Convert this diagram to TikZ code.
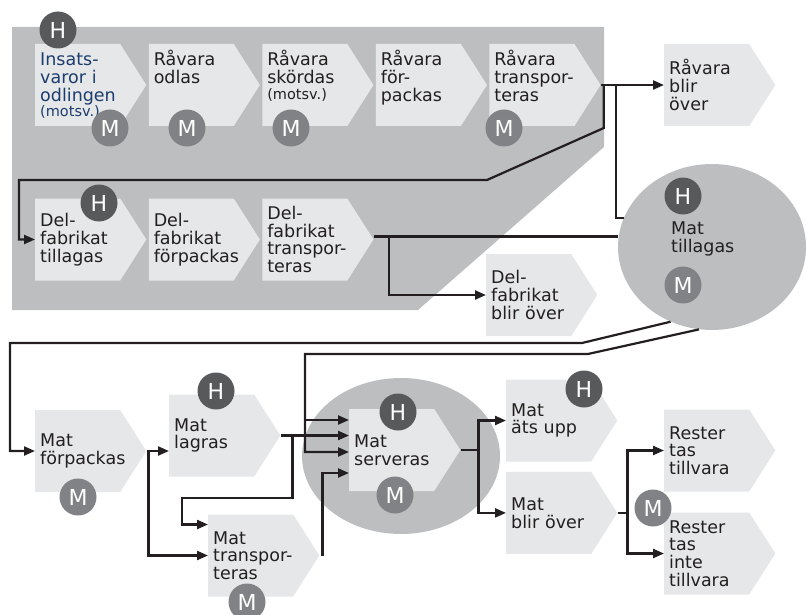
\documentclass[tikz,border=0pt]{standalone}
\usepackage{fontspec}
\setmainfont{DejaVu Sans}
\usetikzlibrary{arrows.meta,positioning,calc,shapes.geometric,shapes.symbols}
\definecolor{boxgray}{HTML}{E6E7E8}
\definecolor{areagray}{HTML}{BCBEC0}
\definecolor{hgray}{HTML}{58595B}
\definecolor{mgray}{HTML}{808285}
\definecolor{ink}{HTML}{231F20}
\definecolor{navy}{HTML}{1D3C6E}
\newcommand{\boxfont}{\fontsize{17.5}{17.7}\selectfont}
\newcommand{\notefont}{\fontsize{14.5}{15}\selectfont}
\newcommand{\circfont}{\fontsize{22}{22}\selectfont}
\hyphenpenalty=10000
\exhyphenpenalty=10000
\tikzset{
  stepbox/.style={signal, signal to=east, signal pointer angle=115, fill=boxgray, minimum height=82pt, text width=75pt, inner xsep=5pt, inner ysep=5pt, align=left, font=\boxfont, text=ink},
  topbox/.style={stepbox, text height=17pt, text depth=55pt},
  area/.style={ellipse, fill=areagray, inner sep=0pt},
  txt/.style={align=left, inner sep=0pt, font=\boxfont, text=ink},
  hcirc/.style={circle, fill=hgray, text=white, minimum size=37pt, inner sep=0pt, font=\circfont},
  mcirc/.style={hcirc, fill=mgray},
  link/.style={draw=ink, line width=2.2pt},
  arrow/.style={link, -{Triangle[length=11pt,width=9pt]}}
}

\begin{document}
\begin{tikzpicture}[x=1pt, y=-1pt, node distance=2pt]
\useasboundingbox (0,0) rectangle (806,615);
\fill[areagray] (12,27) -- (604,27) -- (604,147) -- (418,310) -- (12,310) -- cycle;
\node[area, minimum width=188pt, minimum height=166pt] (tillagas) at (712,247) {};
\node[area, minimum width=198pt, minimum height=156pt] (servarea) at (401,456) {};

% raavara
\node[topbox, anchor=west, text=navy] (ins) at (35,85) {Insats-\\varor i\\odlingen\\[-3pt]{\notefont (motsv.)}};
\node[topbox, right=of ins] (odl) {Råvara\\odlas};
\node[topbox, right=of odl] (skd) {Råvara\\skördas\\[-2pt]{\notefont (motsv.)}};
\node[topbox, right=of skd] (fpk) {Råvara\\för-\\packas};
\node[topbox, right=of fpk] (trp) {Råvara\\transpor-\\teras};
\node[stepbox, anchor=west] (rbo) at (664,85) {Råvara\\blir\\över};

% delfabrikat
\node[stepbox, anchor=west] (dft) at (35,239.5) {Del-\\fabrikat\\tillagas};
\node[stepbox, right=of dft] (dff) {Del-\\fabrikat\\förpackas};
\node[stepbox, right=of dff] (dtr) {Del-\\fabrikat\\transpor-\\teras};
\node[stepbox, anchor=west] (dbo) at (486,295) {Del-\\fabrikat\\blir över};
\node[txt, anchor=west] (tillagastxt) at (671,239) {Mat\\tillagas};

% mat
\node[stepbox, anchor=west] (mfp) at (35,451) {Mat\\förpackas};
\node[stepbox, anchor=west] (mlg) at (169,435.5) {Mat\\lagras};
\node[stepbox, anchor=west] (mtr) at (208,555.5) {Mat\\transpor-\\teras};
\node[stepbox, anchor=west] (msv) at (349,450) {Mat\\serveras};
\node[stepbox, anchor=west] (mau) at (506,420.5) {Mat\\äts upp};
\node[stepbox, below=10pt of mau] (mbo) {Mat\\blir över};
\node[stepbox, anchor=west] (rtt) at (664,450.5) {Rester\\tas\\tillvara};
\node[stepbox, anchor=west] (rit) at (664,553.5) {Rester\\tas\\inte\\tillvara};

\coordinate (knee) at (487,180);
\coordinate (lowA) at (582,343);
\coordinate (lowB) at (588,354);
\draw[arrow] (trp.east) -- (rbo.west);
\draw[arrow] ([xshift=3pt]trp.east) -- ++(0,43) -- (knee) -- (19,180) |- (dft.west);
\draw[link] ([xshift=15pt]trp.east) |- (tillagas.162);
\draw[link] ([yshift=3pt]dtr.east) -- ([yshift=3pt]dtr.east -| tillagas.west);
\draw[arrow] ([xshift=15pt, yshift=3pt]dtr.east) |- (dbo.west);
\draw[arrow] (tillagas.241) -- (lowA) -- (10,343) |- (mfp.west);
\draw[arrow] (tillagas.261) -- (lowB) -- (305,354) |- ([yshift=-2pt]msv.west);
\draw[arrow] (305,400) |- ([yshift=30pt]msv.west);
\draw[arrow] (mfp.east) -- (mfp.east -| mlg.west);
\draw[arrow] ([xshift=2pt]mfp.east) |- (mtr.west);
\draw[arrow] (mlg.east) -- (mlg.east -| msv.west);
\draw[arrow] ([xshift=12pt]mlg.east) |- (182,498) |- ([yshift=31pt]mtr.west);
\draw[arrow] ([xshift=3pt]mtr.east) |- ([yshift=-23pt]msv.west);
\draw[arrow] (msv.east) -- ++(18,0) |- (mau.west);
\draw[arrow] ([xshift=18pt]msv.east) |- (mbo.west);
\draw[link] (mbo.east) -- ++(10,0);
\draw[arrow] ([xshift=10pt]mbo.east) |- (rtt.west);
\draw[arrow] ([xshift=10pt]mbo.east) |- (rit.west);

\node[hcirc] (h-ins) at (58,30) {H};
\node[mcirc] (m-ins) at (110,128) {M};
\node[mcirc] (m-odl) at (187,128) {M};
\node[mcirc] (m-skd) at (291,128) {M};
\node[mcirc] (m-trp) at (504,128) {M};
\node[hcirc] (h-dft) at (99,203) {H};
\node[hcirc] (h-till) at (683,196) {H};
\node[mcirc] (m-till) at (683,285) {M};
\node[mcirc] (m-mfp) at (78,497) {M};
\node[hcirc] (h-mlg) at (216,391) {H};
\node[mcirc] (m-mtr) at (247,602) {M};
\node[hcirc] (h-msv) at (398,412) {H};
\node[mcirc] (m-msv) at (395,495) {M};
\node[hcirc] (h-mau) at (584,389) {H};
\node[mcirc] (m-rest) at (653,508) {M};
\end{tikzpicture}
\end{document}
